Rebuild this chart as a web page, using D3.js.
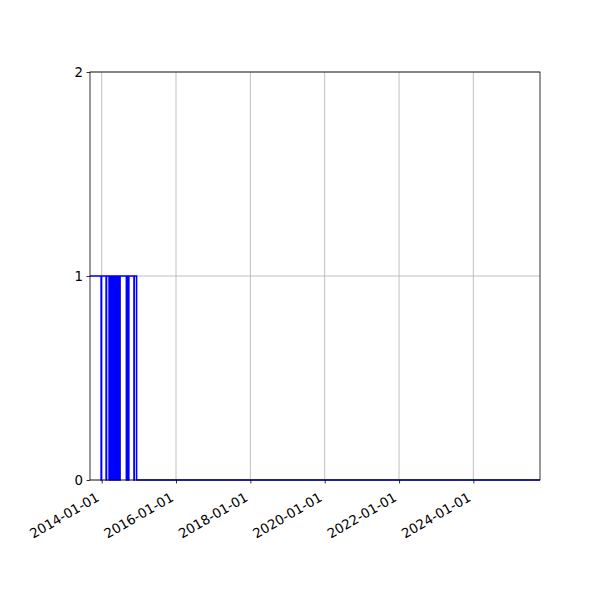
<!DOCTYPE html>
<html>
<head>
<meta charset="utf-8">
<script src="https://cdn.jsdelivr.net/npm/d3@7"></script>
<style>
  body { margin: 0; background: #fff; }
  text { font-family: "DejaVu Sans", sans-serif; }
</style>
</head>
<body>
<svg id="chart" width="600" height="600"></svg>
<script>
// change points of the step series (value holds until the next date)
var stepDates = [
  "2013-09-08", "2013-12-26", "2013-12-31", "2014-02-13", "2014-02-18",
  "2014-03-14", "2014-03-17", "2014-03-22", "2014-03-25", "2014-03-30", "2014-04-02",
  "2014-04-07", "2014-04-10", "2014-04-15", "2014-04-18", "2014-04-23", "2014-04-26",
  "2014-05-01", "2014-05-04", "2014-05-09", "2014-05-12", "2014-05-17", "2014-05-20",
  "2014-05-25", "2014-05-28", "2014-06-02", "2014-06-05", "2014-06-10", "2014-06-13",
  "2014-06-18", "2014-06-21", "2014-06-26", "2014-07-01",
  "2014-08-31", "2014-09-03", "2014-09-10", "2014-09-13", "2014-09-20", "2014-09-25",
  "2014-11-14", "2014-11-18", "2014-12-10", "2025-10-17"
];
var stepValues = [
  1, 0, 1, 0, 1,
  0, 1, 0, 1, 0, 1,
  0, 1, 0, 1, 0, 1,
  0, 1, 0, 1, 0, 1,
  0, 1, 0, 1, 0, 1,
  0, 1, 0, 1,
  0, 1, 0, 1, 0, 1,
  0, 1, 0, 0
];
var xTickDates = ["2014-01-01", "2016-01-01", "2018-01-01", "2020-01-01", "2022-01-01", "2024-01-01"];
var yTicks = [0, 1, 2];

var parse = d3.timeParse("%Y-%m-%d");
var data = stepDates.map(function(d, i) { return { date: parse(d), value: stepValues[i] }; });

var plotLeft = 90, plotRight = 540, plotTop = 72, plotBottom = 480;
var svg = d3.select("#chart");

var x = d3.scaleTime()
    .domain([parse("2013-09-08"), parse("2025-10-17")])
    .range([plotLeft, plotRight]);
var y = d3.scaleLinear()
    .domain([0, 2])
    .range([plotBottom, plotTop]);

// grid
svg.append("g").selectAll("line").data(xTickDates).enter().append("line")
    .attr("x1", d => x(parse(d))).attr("x2", d => x(parse(d)))
    .attr("y1", plotTop).attr("y2", plotBottom)
    .attr("stroke", "#b0b0b0").attr("stroke-width", 0.8);
svg.append("g").selectAll("line").data(yTicks).enter().append("line")
    .attr("x1", plotLeft).attr("x2", plotRight)
    .attr("y1", d => y(d)).attr("y2", d => y(d))
    .attr("stroke", "#b0b0b0").attr("stroke-width", 0.8);

// series
var line = d3.line()
    .x(d => x(d.date))
    .y(d => y(d.value))
    .curve(d3.curveStepAfter);
svg.append("path")
    .datum(data)
    .attr("fill", "none")
    .attr("stroke", "#0000ff")
    .attr("stroke-width", 1.5)
    .attr("d", line);

// frame
svg.append("rect")
    .attr("x", plotLeft).attr("y", plotTop)
    .attr("width", plotRight - plotLeft).attr("height", plotBottom - plotTop)
    .attr("fill", "none").attr("stroke", "#000").attr("stroke-width", 0.8);

// x axis
var xAxis = d3.axisBottom(x)
    .tickValues(xTickDates.map(parse))
    .tickFormat(d3.timeFormat("%Y-%m-%d"))
    .tickSize(3.5).tickPadding(3.5);
var gx = svg.append("g").attr("transform", "translate(0," + plotBottom + ")").call(xAxis);
gx.select(".domain").remove();
gx.selectAll(".tick line").attr("stroke", "#000").attr("stroke-width", 0.8);
gx.selectAll(".tick text")
    .attr("font-size", "13.3px")
    .attr("fill", "#000")
    .attr("text-anchor", "end")
    .attr("y", 0).attr("dy", 0)
    .attr("transform", "translate(-2,20) rotate(-30)");

// y axis
var yAxis = d3.axisLeft(y)
    .tickValues(yTicks)
    .tickFormat(d3.format("d"))
    .tickSize(3.5).tickPadding(3.5);
var gy = svg.append("g").attr("transform", "translate(" + plotLeft + ",0)").call(yAxis);
gy.select(".domain").remove();
gy.selectAll(".tick line").attr("stroke", "#000").attr("stroke-width", 0.8);
gy.selectAll(".tick text").attr("font-size", "13.3px").attr("fill", "#000");
</script>
</body>
</html>
